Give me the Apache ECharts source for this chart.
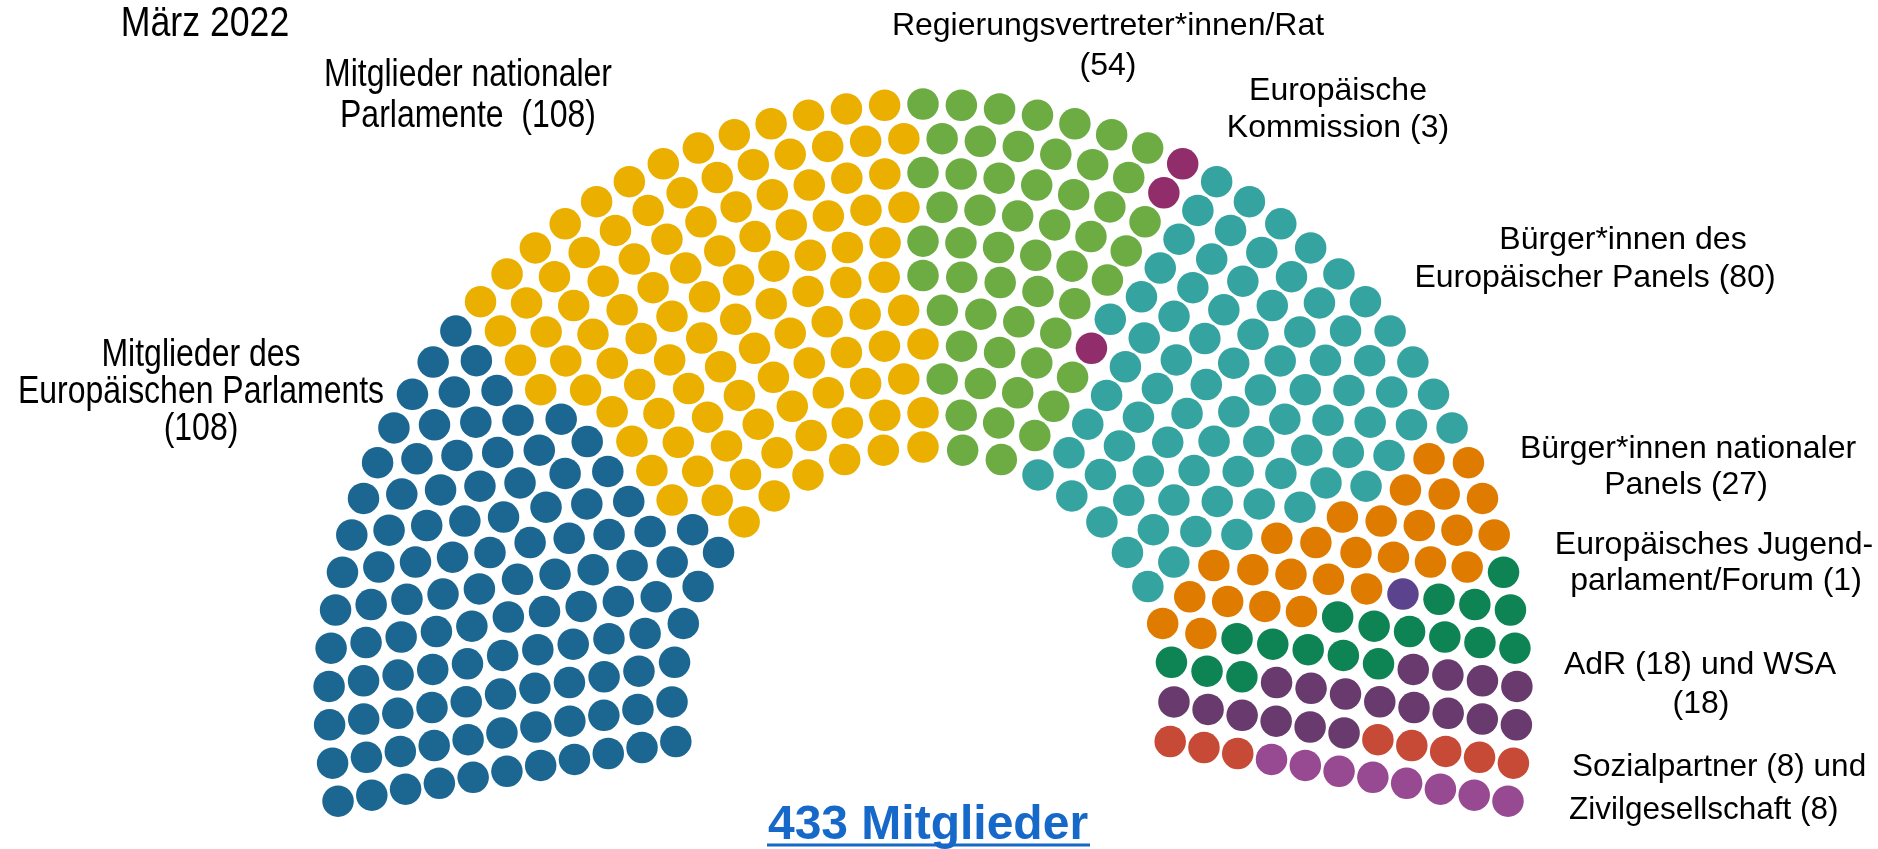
<!DOCTYPE html>
<html>
<head>
<meta charset="utf-8">
<title>Plenum März 2022</title>
<script src="https://cdn.jsdelivr.net/npm/echarts@6/dist/echarts.min.js"></script>
<style>
html,body{margin:0;padding:0;background:#fff;}
#plenum{width:1878px;height:849px;}
</style>
</head>
<body>
<div id="plenum"></div>
<script>
// Gruppen im Plenum, Reihenfolge von links nach rechts
var groupNames = ['Mitglieder des Europäischen Parlaments', 'Mitglieder nationaler Parlamente',
    'Regierungsvertreter*innen/Rat', 'Europäische Kommission', 'Bürger*innen des Europäischer Panels',
    'Bürger*innen nationaler Panels', 'Europäisches Jugendparlament/Forum', 'AdR', 'WSA',
    'Sozialpartner', 'Zivilgesellschaft'];
var groupSeats = [108, 108, 54, 3, 80, 27, 1, 18, 18, 8, 8];
var groupColors = ['#1b6792', '#ebaf00', '#6cac43', '#922d6c', '#35a4a1', '#df7c00',
    '#5b438e', '#0e8353', '#693a6d', '#c74a36', '#974a92'];
// Sitze je Ring, von innen nach aussen
var ringSeats = [23, 27, 30, 33, 36, 39, 43, 46, 49, 52, 55];

var innerRadius = 251, ringStep = 34.3;
var arcFrom = 190, arcTo = -10;   // Grad, gegen den Uhrzeigersinn ab 3 Uhr

function buildSeats() {
    var list = [];
    for (var i = 0; i < ringSeats.length; i++) {
        var n = ringSeats[i], r = innerRadius + ringStep * i;
        for (var j = 0; j < n; j++) {
            list.push({ r: r, a: arcFrom + (arcTo - arcFrom) * j / (n - 1) });
        }
    }
    // links beginnen, innen vor aussen
    list.sort(function (p, q) { return (q.a - p.a) || (p.r - q.r); });
    return list;
}

var seatList = buildSeats();
var series = [];
var k = 0;
for (var g = 0; g < groupNames.length; g++) {
    var pts = [];
    for (var s = 0; s < groupSeats[g]; s++, k++) {
        pts.push([seatList[k].r, (seatList[k].a + 360) % 360]);
    }
    series.push({
        name: groupNames[g],
        type: 'scatter',
        coordinateSystem: 'polar',
        symbolSize: 31.5,
        itemStyle: { color: groupColors[g], opacity: 1 },
        data: pts,
        silent: true
    });
}

var regular = '"Liberation Sans", Arial, sans-serif';

// sx < 1: schmal gesetzte Schrift (wie Arial Narrow) links
function label(text, x, y, size, align, lh, sx) {
    return {
        type: 'text', x: x, y: y, scaleX: sx || 1, silent: true,
        style: {
            text: text, fill: '#000', font: size + 'px ' + regular,
            textAlign: align || 'center', textVerticalAlign: 'middle',
            lineHeight: lh || size * 1.15
        }
    };
}

var option = {
    animation: false,
    backgroundColor: '#fff',
    polar: { center: [923, 698], radius: 600 },
    radiusAxis: { type: 'value', min: 0, max: 600, show: false },
    angleAxis: { type: 'value', min: 0, max: 360, startAngle: 0, clockwise: false, show: false },
    series: series,
    graphic: [
        label('März 2022', 205, 24, 43, 'center', 46, 0.83),
        label('Mitglieder nationaler\nParlamente  (108)', 468, 96, 39, 'center', 41, 0.82),
        label('Mitglieder des\nEuropäischen Parlaments\n(108)', 201, 392, 39, 'center', 37, 0.82),
        label('Regierungsvertreter*innen/Rat\n(54)', 1108, 46, 32, 'center', 40),
        label('Europäische\nKommission (3)', 1338, 110, 32, 'center', 37),
        label('Bürger*innen des', 1623, 240, 32),
        label('Europäischer Panels (80)', 1595, 278, 32),
        label('Bürger*innen nationaler', 1688, 449, 32),
        label('Panels (27)', 1686, 485, 32),
        label('Europäisches Jugend-', 1714, 545, 32),
        label('parlament/Forum (1)', 1716, 581, 32),
        label('AdR (18) und WSA', 1700, 665, 32),
        label('(18)', 1701, 704, 32),
        label('Sozialpartner (8) und', 1572, 767, 31.5, 'left'),
        label('Zivilgesellschaft (8)', 1569, 810, 31.5, 'left'),
        {
            type: 'text', x: 928, y: 826, silent: true,
            style: {
                text: '433 Mitglieder', fill: '#1769c9', font: 'bold 48px ' + regular,
                textAlign: 'center', textVerticalAlign: 'middle'
            }
        },
        {
            type: 'line', silent: true,
            shape: { x1: 767, y1: 845, x2: 1090, y2: 845 },
            style: { stroke: '#1769c9', lineWidth: 3 }
        }
    ]
};

var chart = echarts.init(document.getElementById('plenum'));
chart.setOption(option);
</script>
</body>
</html>
